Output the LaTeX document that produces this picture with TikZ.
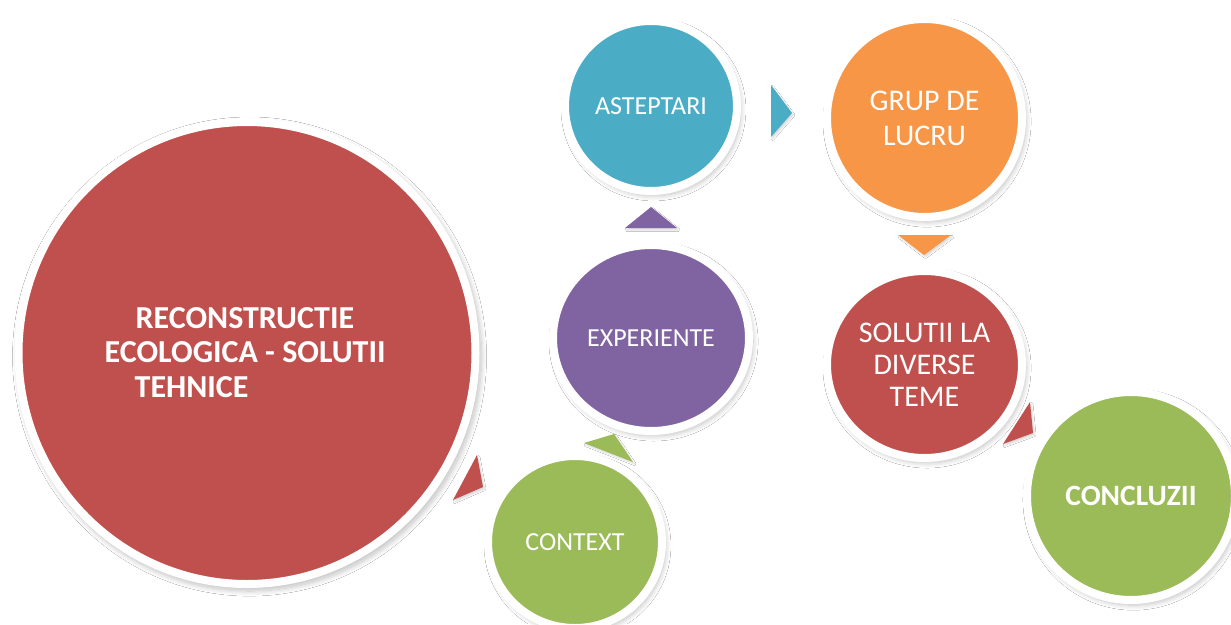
\documentclass[tikz,border=0pt]{standalone}
\usepackage{fontspec}
\setmainfont{Carlito}
\usetikzlibrary{shapes.geometric,shadows.blur}
\definecolor{bredc}{HTML}{C0504D}
\definecolor{bgreenc}{HTML}{9BBB59}
\definecolor{bpurplec}{HTML}{8064A2}
\definecolor{btealc}{HTML}{4BACC6}
\definecolor{borangec}{HTML}{F79646}
\begin{document}
\begin{tikzpicture}[x=1pt,y=-1pt,
  bubble/.style={ellipse, draw=white, line width=8pt, inner sep=0pt, text=white, align=center,
    blur shadow={shadow xshift=2.5pt, shadow yshift=-3.5pt, shadow scale=1.015,
                 shadow blur radius=5pt, shadow blur steps=10, shadow opacity=24}},
  chevron/.style={blur shadow={shadow xshift=1.5pt, shadow yshift=-2pt,
                 shadow blur radius=1.5pt, shadow opacity=15}},
  lbl/.style={font=\fontsize{26}{31}\selectfont},
  lblbig/.style={font=\fontsize{30}{35}\selectfont},
  bigline/.style={anchor=base west, inner sep=0pt, text=white,
                  font=\fontsize{32}{34}\selectfont\bfseries}]
  \fill[white] (0,0) rectangle (1231,624);
  \useasboundingbox (0,0) rectangle (1231,624);

  % bubbles
  \node[bubble, fill=bredc, minimum width=457pt, minimum height=462pt] (main) at (247,353) {};
  \node[bubble, fill=btealc, minimum width=172pt, minimum height=170pt, lbl] (expect) at (651,106) {ASTEPTARI};
  \node[bubble, fill=bpurplec, minimum width=196pt, minimum height=186pt, lbl] (exper) at (651,338) {EXPERIENTE};
  \node[bubble, fill=bgreenc, minimum width=174pt, minimum height=172pt, lbl] (context) at (575,542) {CONTEXT};
  \node[bubble, fill=borangec, minimum width=195pt, minimum height=198pt, lblbig] (group) at (924.5,118) {GRUP DE\\LUCRU};
  \node[bubble, fill=bredc, minimum width=195pt, minimum height=187pt,
        font=\fontsize{30}{32}\selectfont] (solutions) at (924.5,364.5) {SOLUTII LA\\DIVERSE\\TEME};
  \node[bubble, fill=bgreenc, minimum width=208pt, minimum height=208pt,
        font=\fontsize{29.5}{34}\selectfont\bfseries] (concl) at (1131,496) {CONCLUZII};

  % title lines of the main bubble
  \node[bigline] (title1) at (135.5,328) {RECONSTRUCTIE};
  \node[bigline] (title2) at (104.5,362) {ECOLOGICA - SOLUTII};
  \node[bigline] (title3) at (134.5,397) {TEHNICE};

  % chevrons between the bubbles
  \fill[bredc, chevron] (477,455) -- (483,487) -- (453,500) -- cycle;
  \fill[bgreenc, chevron] (584,443) -- (614,434) -- (633,462) -- cycle;
  \fill[bpurplec, chevron] (651,207) -- (677,228) -- (625,228) -- cycle;
  \fill[btealc, chevron] (771,85) -- (792,113) -- (771,137) -- cycle;
  \fill[borangec, chevron] (898,235) -- (951,235) -- (924,255) -- cycle;
  \fill[bredc, chevron] (1030,402) -- (1033,433) -- (1003,444) -- cycle;
\end{tikzpicture}
\end{document}
